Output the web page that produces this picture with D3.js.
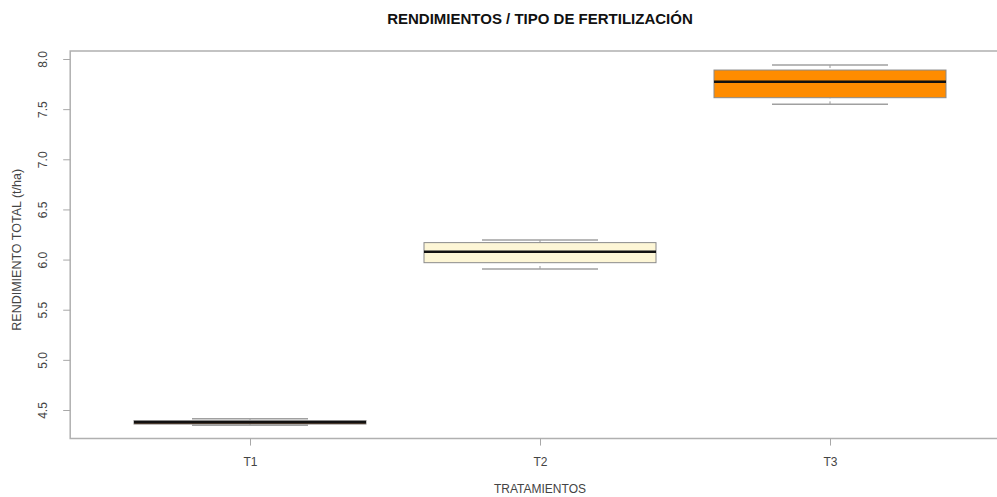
<!DOCTYPE html>
<html>
	<head>
		<meta charset="utf-8">
		<style type="text/css">
			body { margin: 0; background: #fff; font-family: "Liberation Sans", Arial, sans-serif; }
			.axis path, .axis line { stroke: #a8a8a8; }
			.axis text { fill: #444; font-size: 12px; font-family: "Liberation Sans", Arial, sans-serif; }
		</style>
		<title>Rendimientos</title>
	</head>
	<body>
		<script src="https://cdn.jsdelivr.net/npm/d3@7"></script>
		<script>

/* data */

var tratamientos = ["T1", "T2", "T3"];
var whiskerLow  = [4.348, 5.906, 7.548];
var cuartil1    = [4.360, 5.969, 7.614];
var mediana     = [4.378, 6.079, 7.774];
var cuartil3    = [4.395, 6.169, 7.890];
var whiskerHigh = [4.412, 6.195, 7.940];
var colores     = ["#7a3e12", "#fdf6d6", "#ff8c00"];
var yTicks      = [4.5, 5.0, 5.5, 6.0, 6.5, 7.0, 7.5, 8.0];

/* graph parameters */

var totalWidth = 997;
var totalHeight = 497;

var svg = d3.select("body").append("svg")
	.attr("width", totalWidth)
	.attr("height", totalHeight);

// position 1..3 -> pixels
var scaleX = d3.scaleLinear()
	.domain([1, 3])
	.range([250, 830]);

var scaleY = d3.scaleLinear()
	.domain([4.5, 8.0])
	.range([410, 59]);

var xLeft = scaleX(0.38);
var xRight = scaleX(3.62);
var yTop = scaleY(8.08);
var yBottom = scaleY(4.215);

var boxWidth = (scaleX(2) - scaleX(1)) * 0.8;
var stapleWidth = boxWidth / 2;

/* frame (right side cut off) */

svg.append("path")
	.attr("d", "M" + xRight + "," + yTop + " L" + xLeft + "," + yTop + " L" + xLeft + "," + yBottom + " L" + xRight + "," + yBottom)
	.style("fill", "none")
	.style("stroke", "#b0b0b0")
	.style("stroke-width", 1.5);

// Y axis
var yAxis = d3.axisLeft(scaleY)
	.tickValues(yTicks)
	.tickFormat(d3.format(".1f"))
	.tickSize(7)
	.tickPadding(14);

var gy = svg.append("g")
	.attr("class", "axis")
	.attr("transform", "translate(" + xLeft + ",0)")
	.call(yAxis);

gy.select(".domain").remove();
gy.selectAll(".tick text")
	.attr("text-anchor", "middle")
	.attr("x", 0)
	.attr("transform", "translate(-27,0) rotate(-90)")
	.attr("dy", "0.35em");

// X axis
var xAxis = d3.axisBottom(scaleX)
	.tickValues([1, 2, 3])
	.tickFormat(function(d) { return tratamientos[d - 1]; })
	.tickSize(7)
	.tickPadding(12);

var gx = svg.append("g")
	.attr("class", "axis")
	.attr("transform", "translate(0," + yBottom + ")")
	.call(xAxis);

gx.select(".domain").remove();

/* labels */

svg.append("text")
	.attr("x", 540)
	.attr("y", 24)
	.attr("text-anchor", "middle")
	.style("font-size", "15px")
	.style("font-weight", "bold")
	.style("fill", "#111")
	.text("RENDIMIENTOS / TIPO DE FERTILIZACIÓN");

svg.append("text")
	.attr("x", 540)
	.attr("y", 493)
	.attr("text-anchor", "middle")
	.style("font-size", "12px")
	.style("fill", "#444")
	.text("TRATAMIENTOS");

svg.append("text")
	.attr("transform", "translate(21," + ((yTop + yBottom) / 2 + 5) + ") rotate(-90)")
	.attr("text-anchor", "middle")
	.style("font-size", "12.5px")
	.style("fill", "#444")
	.text("RENDIMIENTO TOTAL (t/ha)");

/* boxes */

var boxes = svg.selectAll(".caja")
	.data(tratamientos)
	.enter().append("g")
	.attr("class", "caja");

// whiskers (dashed)
boxes.append("line")
	.attr("x1", function(d, i) { return scaleX(i + 1); })
	.attr("x2", function(d, i) { return scaleX(i + 1); })
	.attr("y1", function(d, i) { return scaleY(whiskerHigh[i]); })
	.attr("y2", function(d, i) { return scaleY(cuartil3[i]); })
	.style("stroke", "#999")
	.style("stroke-dasharray", "3,3");

boxes.append("line")
	.attr("x1", function(d, i) { return scaleX(i + 1); })
	.attr("x2", function(d, i) { return scaleX(i + 1); })
	.attr("y1", function(d, i) { return scaleY(whiskerLow[i]); })
	.attr("y2", function(d, i) { return scaleY(cuartil1[i]); })
	.style("stroke", "#999")
	.style("stroke-dasharray", "3,3");

// staples
boxes.append("line")
	.attr("x1", function(d, i) { return scaleX(i + 1) - stapleWidth / 2; })
	.attr("x2", function(d, i) { return scaleX(i + 1) + stapleWidth / 2; })
	.attr("y1", function(d, i) { return scaleY(whiskerHigh[i]); })
	.attr("y2", function(d, i) { return scaleY(whiskerHigh[i]); })
	.style("stroke", "#a0a0a0")
	.style("stroke-width", 1.5);

boxes.append("line")
	.attr("x1", function(d, i) { return scaleX(i + 1) - stapleWidth / 2; })
	.attr("x2", function(d, i) { return scaleX(i + 1) + stapleWidth / 2; })
	.attr("y1", function(d, i) { return scaleY(whiskerLow[i]); })
	.attr("y2", function(d, i) { return scaleY(whiskerLow[i]); })
	.style("stroke", "#a0a0a0")
	.style("stroke-width", 1.5);

// box
boxes.append("rect")
	.attr("x", function(d, i) { return scaleX(i + 1) - boxWidth / 2; })
	.attr("width", boxWidth)
	.attr("y", function(d, i) { return scaleY(cuartil3[i]); })
	.attr("height", function(d, i) { return scaleY(cuartil1[i]) - scaleY(cuartil3[i]); })
	.style("fill", function(d, i) { return colores[i]; })
	.style("stroke", "#8a8a8a")
	.style("stroke-width", 1);

// median
boxes.append("line")
	.attr("x1", function(d, i) { return scaleX(i + 1) - boxWidth / 2; })
	.attr("x2", function(d, i) { return scaleX(i + 1) + boxWidth / 2; })
	.attr("y1", function(d, i) { return scaleY(mediana[i]); })
	.attr("y2", function(d, i) { return scaleY(mediana[i]); })
	.style("stroke", "#111")
	.style("stroke-width", 2.5);

		</script>
	</body>
</html>
